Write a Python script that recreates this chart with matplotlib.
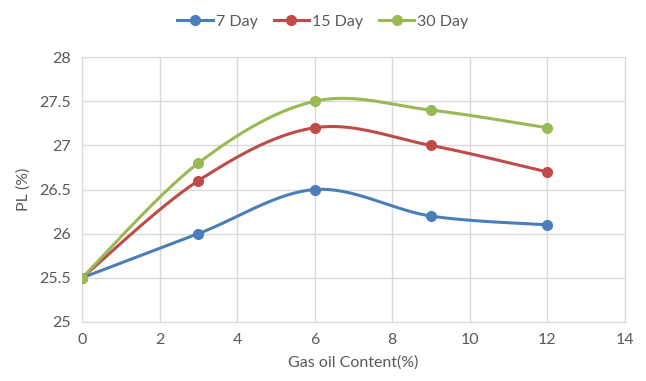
import numpy as np
import matplotlib
matplotlib.use("Agg")
import matplotlib.pyplot as plt
from matplotlib.lines import Line2D

plt.rcParams['font.family'] = ['Lato', 'DejaVu Sans']

gas_oil = [0, 3, 6, 9, 12]
pl_7day = [25.5, 26.0, 26.5, 26.2, 26.1]
pl_15day = [25.5, 26.6, 27.2, 27.0, 26.7]
pl_30day = [25.5, 26.8, 27.5, 27.4, 27.2]
series_names = ["7 Day", "15 Day", "30 Day"]
colors = ["#4a7ebb", "#be4b48", "#98b954"]
x_ticks = [0, 2, 4, 6, 8, 10, 12, 14]
y_ticks = [25, 25.5, 26, 26.5, 27, 27.5, 28]
y_labels = ["25", "25.5", "26", "26.5", "27", "27.5", "28"]


def smooth_curve(x, y, n=40):
    """Cubic Bezier smoothing through every point (spreadsheet-style)."""
    p = np.column_stack([x, y]).astype(float)
    ext = np.vstack([p[0], p, p[-1]])
    out = []
    t = np.linspace(0, 1, n)[:, None]
    for i in range(len(p) - 1):
        p0, p3 = p[i], p[i + 1]
        c1 = p0 + (ext[i + 2] - ext[i]) / 6.0
        c2 = p3 - (ext[i + 3] - ext[i + 1]) / 6.0
        seg = ((1 - t) ** 3) * p0 + 3 * ((1 - t) ** 2) * t * c1 + 3 * (1 - t) * t ** 2 * c2 + t ** 3 * p3
        out.append(seg if i == 0 else seg[1:])
    s = np.vstack(out)
    return s[:, 0], s[:, 1]


fig = plt.figure(figsize=(6.46, 3.81), dpi=100)
ax = fig.add_axes([0.127, 0.155, 0.840, 0.695])

text_color = "#595959"
for vals, c in zip([pl_7day, pl_15day, pl_30day], colors):
    sx, sy = smooth_curve(gas_oil, vals)
    ax.plot(sx, sy, color=c, lw=2.2, solid_capstyle="round", zorder=3)
    ax.plot(gas_oil, vals, "o", color=c, ms=7, zorder=4)

ax.set_xlim(0, 14)
ax.set_ylim(25, 28)
ax.set_xticks(x_ticks)
ax.set_yticks(y_ticks)
ax.set_yticklabels(y_labels)
ax.grid(True, color="#d9d9d9", lw=1)
ax.set_axisbelow(True)
for s in ax.spines.values():
    s.set_color("#d9d9d9")
ax.tick_params(length=0, colors=text_color, labelsize=11.5, pad=8)
ax.set_xlabel("Gas oil Content(%)", color=text_color, fontsize=11.5, labelpad=6)
ax.set_ylabel("PL (%)", color=text_color, fontsize=11.5, labelpad=6)

handles = [Line2D([0], [0], color=c, lw=2.2, marker="o", ms=7) for c in colors]
fig.legend(handles, series_names, loc="upper center", bbox_to_anchor=(0.5, 1.0),
           ncol=3, frameon=False, fontsize=11.5, labelcolor=text_color,
           handlelength=2.2, handletextpad=0.2, columnspacing=1.0)

fig.savefig("out.png", dpi=100)
